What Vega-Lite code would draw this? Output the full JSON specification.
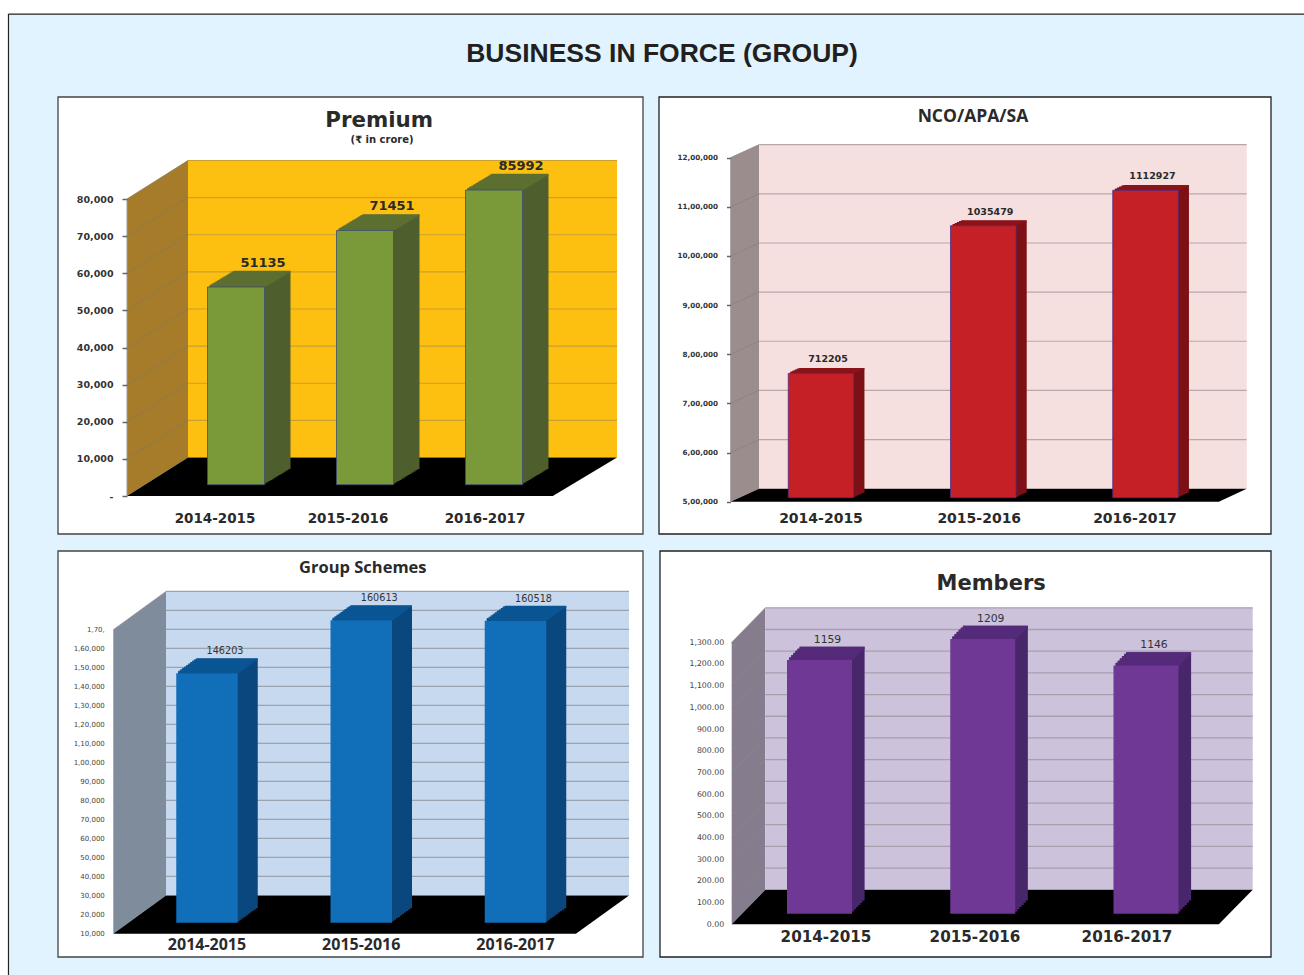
{"$schema":"https://vega.github.io/schema/vega-lite/v6.json","width":1304,"height":975,"padding":0,"autosize":{"type":"fit","contains":"padding"},"background":"white","config":{"view":{"stroke":null},"text":{"font":"DejaVu Sans","color":"#2a2a2a"}},
"datasets":{
"premium":[{"year":"2014-2015","value":51135},{"year":"2015-2016","value":71451},{"year":"2016-2017","value":85992}],
"nco":[{"year":"2014-2015","value":712205},{"year":"2015-2016","value":1035479},{"year":"2016-2017","value":1112927}],
"schemes":[{"year":"2014-2015","value":146203},{"year":"2015-2016","value":160613},{"year":"2016-2017","value":160518}],
"members":[{"year":"2014-2015","value":1159},{"year":"2015-2016","value":1209},{"year":"2016-2017","value":1146}],
"premiumRoom":[{"face":"left","depth":0,"floor":0,"ceiling":80000},{"face":"left","depth":12.45,"floor":10370,"ceiling":90370},{"face":"back","depth":12.45,"floor":10370,"ceiling":90370},{"face":"back","depth":100,"floor":10370,"ceiling":90370},{"face":"ground","depth":0,"floor":0,"ceiling":0},{"face":"ground","depth":12.45,"floor":0,"ceiling":10370},{"face":"ground","depth":86.9,"floor":0,"ceiling":10370},{"face":"ground","depth":100,"floor":10370,"ceiling":10370}],
"ncoRoom":[{"face":"left","depth":0,"floor":500000,"ceiling":1200000},{"face":"left","depth":5.52,"floor":526450,"ceiling":1226450},{"face":"back","depth":5.52,"floor":526450,"ceiling":1226450},{"face":"back","depth":100,"floor":526450,"ceiling":1226450},{"face":"ground","depth":0,"floor":500000,"ceiling":500000},{"face":"ground","depth":5.52,"floor":500000,"ceiling":526450},{"face":"ground","depth":94.6,"floor":500000,"ceiling":526450},{"face":"ground","depth":100,"floor":526450,"ceiling":526450}],
"schemesRoom":[{"face":"left","depth":0,"floor":10000,"ceiling":170000},{"face":"left","depth":10.22,"floor":30158,"ceiling":190158},{"face":"back","depth":10.22,"floor":30158,"ceiling":190158},{"face":"back","depth":100,"floor":30158,"ceiling":190158},{"face":"ground","depth":0,"floor":10000,"ceiling":10000},{"face":"ground","depth":10.22,"floor":10000,"ceiling":30158},{"face":"ground","depth":89.7,"floor":10000,"ceiling":30158},{"face":"ground","depth":100,"floor":30158,"ceiling":30158}],
"membersRoom":[{"face":"left","depth":0,"floor":0,"ceiling":1300},{"face":"left","depth":6.45,"floor":159,"ceiling":1459},{"face":"back","depth":6.45,"floor":159,"ceiling":1459},{"face":"back","depth":100,"floor":159,"ceiling":1459},{"face":"ground","depth":0,"floor":0,"ceiling":0},{"face":"ground","depth":6.45,"floor":0,"ceiling":159},{"face":"ground","depth":93.5,"floor":0,"ceiling":159},{"face":"ground","depth":100,"floor":159,"ceiling":159}],
"premiumTicks":[{"tick":10000},{"tick":20000},{"tick":30000},{"tick":40000},{"tick":50000},{"tick":60000},{"tick":70000},{"tick":80000}],
"ncoTicks":[{"tick":600000},{"tick":700000},{"tick":800000},{"tick":900000},{"tick":1000000},{"tick":1100000},{"tick":1200000}],
"schemesTicks":[{"tick":20000},{"tick":30000},{"tick":40000},{"tick":50000},{"tick":60000},{"tick":70000},{"tick":80000},{"tick":90000},{"tick":100000},{"tick":110000},{"tick":120000},{"tick":130000},{"tick":140000},{"tick":150000},{"tick":160000},{"tick":170000}],
"membersTicks":[{"tick":100},{"tick":200},{"tick":300},{"tick":400},{"tick":500},{"tick":600},{"tick":700},{"tick":800},{"tick":900},{"tick":1000},{"tick":1100},{"tick":1200},{"tick":1300}],
"one":[{"part":"frame"}]
},
"resolve":{"scale":{"x":"independent","y":"independent","color":"independent"},"axis":{"x":"independent","y":"independent"}},
"layer":[
{"data":{"name":"one"},"layer":[
{"mark":{"type":"rect","color":"#e0f3fe"},"encoding":{"x":{"datum":0.0065,"type":"quantitative","axis":null,"scale":{"domain":[0,1],"range":[0,1304]}},"x2":{"datum":1},"y":{"datum":0.0144,"type":"quantitative","axis":null,"scale":{"domain":[0,1],"range":[0,975]}},"y2":{"datum":1}}},
{"mark":{"type":"rule","color":"#222","strokeWidth":1.2},"encoding":{"x":{"datum":0.0065,"type":"quantitative","axis":null},"x2":{"datum":1},"y":{"datum":0.0144,"type":"quantitative","axis":null}}},
{"mark":{"type":"rule","color":"#222","strokeWidth":1.2},"encoding":{"x":{"datum":0.0065,"type":"quantitative","axis":null},"y":{"datum":0.0144,"type":"quantitative","axis":null},"y2":{"datum":1}}},
{"mark":{"type":"text","text":"BUSINESS IN FORCE (GROUP)","font":"Liberation Sans","fontWeight":"bold","fontSize":26.5,"align":"center","baseline":"middle","color":"#231f20"},"encoding":{"x":{"datum":0.5077,"type":"quantitative","axis":null},"y":{"datum":0.0554,"type":"quantitative","axis":null}}}
]},

{"data":{"name":"one"},"layer":[
{"mark":{"type":"rect","color":"white","stroke":"#444","strokeWidth":1.3},"encoding":{"x":{"datum":0,"type":"quantitative","axis":null,"scale":{"domain":[0,1],"range":[58,643]}},"x2":{"datum":1},"y":{"datum":0,"type":"quantitative","axis":null,"scale":{"domain":[0,1],"range":[97,534]}},"y2":{"datum":1}}},
{"mark":{"type":"text","text":"Premium","fontWeight":"bold","fontSize":21.4,"align":"center","baseline":"middle"},"encoding":{"x":{"datum":0.549,"type":"quantitative","axis":null},"y":{"datum":0.055,"type":"quantitative","axis":null}}},
{"mark":{"type":"text","text":"(₹ in crore)","fontWeight":"bold","fontSize":10,"align":"center","baseline":"middle"},"encoding":{"x":{"datum":0.554,"type":"quantitative","axis":null},"y":{"datum":0.098,"type":"quantitative","axis":null}}}
]},
{"layer":[
{"data":{"name":"premiumRoom"},"mark":{"type":"area"},"encoding":{"x":{"field":"depth","type":"quantitative","axis":null,"scale":{"domain":[0,100],"range":[127,617]}},"y":{"field":"ceiling","type":"quantitative","stack":null,"scale":{"domain":[0,80000],"range":[496,199]},"axis":{"title":null,"orient":"left","offset":-127,"zindex":2,"values":[0,10000,20000,30000,40000,50000,60000,70000,80000],"labelExpr":"datum.value==0?'-':format(datum.value,',')","domain":false,"grid":false,"tickSize":5,"tickWidth":1.5,"tickColor":"#666","labelPadding":9,"labelFont":"DejaVu Sans","labelFontSize":9.5,"labelFontWeight":"bold","labelColor":"#333"}},"y2":{"field":"floor"},"color":{"field":"face","type":"nominal","legend":null,"scale":{"domain":["left","back","ground"],"range":["#a67c2a","#fec010","#000000"]}}}},
{"data":{"name":"premiumTicks"},"mark":{"type":"rule","color":"#c9a030","strokeWidth":1.2,"yOffset":-38.5},"encoding":{"x":{"datum":12.45,"type":"quantitative","axis":null},"x2":{"datum":100},"y":{"field":"tick","type":"quantitative"}}},
{"data":{"name":"premiumTicks"},"mark":{"type":"rule","color":"#857a55","strokeWidth":0.8,"y2Offset":-38.5},"encoding":{"x":{"datum":0,"type":"quantitative","axis":null},"x2":{"datum":12.45},"y":{"field":"tick","type":"quantitative"},"y2":{"field":"tick"}}},
{"data":{"name":"one"},"mark":{"type":"rule","color":"#999","strokeWidth":1},"encoding":{"x":{"datum":0,"type":"quantitative","axis":null},"y":{"datum":0,"type":"quantitative"},"y2":{"datum":80000}}}
]},
{"data":{"name":"premium"},"encoding":{"x":{"field":"year","type":"nominal","axis":null,"scale":{"type":"point","padding":0,"domain":["2014-2015","2015-2016","2016-2017"],"range":[236,494]}},"y":{"field":"value","type":"quantitative","stack":null,"axis":null,"scale":{"domain":[-19900,85992],"range":[484.7,190],"nice":false,"zero":false}}},"layer":[
{"encoding":{"y2":{"datum":-19900}},"layer":[
{"mark":{"type":"bar","size":57,"color":"#4e5e2d","xOffset":2,"yOffset":-1.2,"y2Offset":-1.2}},
{"mark":{"type":"bar","size":57,"color":"#4e5e2d","xOffset":4,"yOffset":-2.4,"y2Offset":-2.4}},
{"mark":{"type":"bar","size":57,"color":"#4e5e2d","xOffset":6,"yOffset":-3.6,"y2Offset":-3.6}},
{"mark":{"type":"bar","size":57,"color":"#4e5e2d","xOffset":8,"yOffset":-4.8,"y2Offset":-4.8}},
{"mark":{"type":"bar","size":57,"color":"#4e5e2d","xOffset":10,"yOffset":-6,"y2Offset":-6}},
{"mark":{"type":"bar","size":57,"color":"#4e5e2d","xOffset":12,"yOffset":-7.2,"y2Offset":-7.2}},
{"mark":{"type":"bar","size":57,"color":"#4e5e2d","xOffset":14,"yOffset":-8.4,"y2Offset":-8.4}},
{"mark":{"type":"bar","size":57,"color":"#4e5e2d","xOffset":16,"yOffset":-9.6,"y2Offset":-9.6}},
{"mark":{"type":"bar","size":57,"color":"#4e5e2d","xOffset":18,"yOffset":-10.8,"y2Offset":-10.8}},
{"mark":{"type":"bar","size":57,"color":"#4e5e2d","xOffset":20,"yOffset":-12,"y2Offset":-12}},
{"mark":{"type":"bar","size":57,"color":"#4e5e2d","xOffset":22,"yOffset":-13.2,"y2Offset":-13.2}},
{"mark":{"type":"bar","size":57,"color":"#4e5e2d","xOffset":24,"yOffset":-14.4,"y2Offset":-14.4}},
{"mark":{"type":"bar","size":57,"color":"#4e5e2d","xOffset":26,"yOffset":-15.6,"y2Offset":-15.6}}
]},
{"mark":{"type":"tick","size":57,"thickness":2,"opacity":1,"color":"#5c6f31","xOffset":2,"yOffset":-1.2}},
{"mark":{"type":"tick","size":57,"thickness":2,"opacity":1,"color":"#5c6f31","xOffset":4,"yOffset":-2.4}},
{"mark":{"type":"tick","size":57,"thickness":2,"opacity":1,"color":"#5c6f31","xOffset":6,"yOffset":-3.6}},
{"mark":{"type":"tick","size":57,"thickness":2,"opacity":1,"color":"#5c6f31","xOffset":8,"yOffset":-4.8}},
{"mark":{"type":"tick","size":57,"thickness":2,"opacity":1,"color":"#5c6f31","xOffset":10,"yOffset":-6}},
{"mark":{"type":"tick","size":57,"thickness":2,"opacity":1,"color":"#5c6f31","xOffset":12,"yOffset":-7.2}},
{"mark":{"type":"tick","size":57,"thickness":2,"opacity":1,"color":"#5c6f31","xOffset":14,"yOffset":-8.4}},
{"mark":{"type":"tick","size":57,"thickness":2,"opacity":1,"color":"#5c6f31","xOffset":16,"yOffset":-9.6}},
{"mark":{"type":"tick","size":57,"thickness":2,"opacity":1,"color":"#5c6f31","xOffset":18,"yOffset":-10.8}},
{"mark":{"type":"tick","size":57,"thickness":2,"opacity":1,"color":"#5c6f31","xOffset":20,"yOffset":-12}},
{"mark":{"type":"tick","size":57,"thickness":2,"opacity":1,"color":"#5c6f31","xOffset":22,"yOffset":-13.2}},
{"mark":{"type":"tick","size":57,"thickness":2,"opacity":1,"color":"#5c6f31","xOffset":24,"yOffset":-14.4}},
{"mark":{"type":"tick","size":57,"thickness":2,"opacity":1,"color":"#5c6f31","xOffset":26,"yOffset":-15.2}},
{"encoding":{"y2":{"datum":-19900}},"mark":{"type":"bar","size":57,"color":"#7a9a3a","stroke":"#3f4c78","strokeWidth":0.8}},
{"mark":{"type":"text","fontWeight":"bold","fontSize":13,"xOffset":27,"yOffset":-24,"align":"center","baseline":"middle"},"encoding":{"text":{"field":"value","type":"quantitative","format":"d"}}},
{"transform":[{"filter":"datum.year=='2014-2015'"}],"mark":{"type":"text","fontWeight":"bold","fontSize":13.5,"xOffset":-21,"yOffset":34,"align":"center","baseline":"middle"},"encoding":{"y":{"datum":-19900,"type":"quantitative","axis":null},"text":{"field":"year"}}},
{"transform":[{"filter":"datum.year=='2015-2016'"}],"mark":{"type":"text","fontWeight":"bold","fontSize":13.5,"xOffset":-17,"yOffset":34,"align":"center","baseline":"middle"},"encoding":{"y":{"datum":-19900,"type":"quantitative","axis":null},"text":{"field":"year"}}},
{"transform":[{"filter":"datum.year=='2016-2017'"}],"mark":{"type":"text","fontWeight":"bold","fontSize":13.5,"xOffset":-9,"yOffset":34,"align":"center","baseline":"middle"},"encoding":{"y":{"datum":-19900,"type":"quantitative","axis":null},"text":{"field":"year"}}}
]},

{"data":{"name":"one"},"layer":[
{"mark":{"type":"rect","color":"white","stroke":"#222","strokeWidth":1.3},"encoding":{"x":{"datum":0,"type":"quantitative","axis":null,"scale":{"domain":[0,1],"range":[659,1271]}},"x2":{"datum":1},"y":{"datum":0,"type":"quantitative","axis":null,"scale":{"domain":[0,1],"range":[97,534]}},"y2":{"datum":1}}},
{"mark":{"type":"text","text":"NCO/APA/SA","font":"Open Sans","fontWeight":"bold","fontSize":17.5,"align":"center","baseline":"middle"},"encoding":{"x":{"datum":0.513,"type":"quantitative","axis":null},"y":{"datum":0.046,"type":"quantitative","axis":null}}}
]},
{"layer":[
{"data":{"name":"ncoRoom"},"mark":{"type":"area"},"encoding":{"x":{"field":"depth","type":"quantitative","axis":null,"scale":{"domain":[0,100],"range":[730.5,1246.7]}},"y":{"field":"ceiling","type":"quantitative","stack":null,"scale":{"domain":[500000,1200000],"range":[501.7,157.7],"zero":false,"nice":false},"axis":{"title":null,"orient":"left","offset":-730.5,"zindex":2,"values":[500000,600000,700000,800000,900000,1000000,1100000,1200000],"labelExpr":"floor(datum.value/100000)+',00,000'","domain":false,"grid":false,"tickSize":4,"tickWidth":1.5,"tickColor":"#666","labelPadding":9,"labelFont":"DejaVu Sans","labelFontSize":7.2,"labelFontWeight":"bold","labelColor":"#333"}},"y2":{"field":"floor"},"color":{"field":"face","type":"nominal","legend":null,"scale":{"domain":["left","back","ground"],"range":["#9b8d8d","#f6dfdf","#000000"]}}}},
{"data":{"name":"ncoTicks"},"mark":{"type":"rule","color":"#b8a8a8","strokeWidth":1.2,"yOffset":-13},"encoding":{"x":{"datum":5.52,"type":"quantitative","axis":null},"x2":{"datum":100},"y":{"field":"tick","type":"quantitative"}}},
{"data":{"name":"ncoTicks"},"mark":{"type":"rule","color":"#8a8080","strokeWidth":0.8,"y2Offset":-13},"encoding":{"x":{"datum":0,"type":"quantitative","axis":null},"x2":{"datum":5.52},"y":{"field":"tick","type":"quantitative"},"y2":{"field":"tick"}}},
{"data":{"name":"one"},"mark":{"type":"rule","color":"#aaa","strokeWidth":1},"encoding":{"x":{"datum":0,"type":"quantitative","axis":null},"y":{"datum":500000,"type":"quantitative"},"y2":{"datum":1200000}}}
]},
{"data":{"name":"nco"},"encoding":{"x":{"field":"year","type":"nominal","axis":null,"scale":{"type":"point","padding":0,"domain":["2014-2015","2015-2016","2016-2017"],"range":[821,1145.5]}},"y":{"field":"value","type":"quantitative","stack":null,"axis":null,"scale":{"domain":[440000,1112927],"range":[497.7,190.3],"nice":false,"zero":false}}},"layer":[
{"encoding":{"y2":{"datum":440000}},"layer":[
{"mark":{"type":"bar","size":65.5,"color":"#7d1015","xOffset":2.14,"yOffset":-1,"y2Offset":-1}},
{"mark":{"type":"bar","size":65.5,"color":"#7d1015","xOffset":4.28,"yOffset":-2,"y2Offset":-2}},
{"mark":{"type":"bar","size":65.5,"color":"#7d1015","xOffset":6.42,"yOffset":-3,"y2Offset":-3}},
{"mark":{"type":"bar","size":65.5,"color":"#7d1015","xOffset":8.56,"yOffset":-4,"y2Offset":-4}},
{"mark":{"type":"bar","size":65.5,"color":"#7d1015","xOffset":10.7,"yOffset":-5,"y2Offset":-5}}
]},
{"mark":{"type":"tick","size":65.5,"thickness":1.6,"opacity":1,"color":"#8a1318","xOffset":2.14,"yOffset":-1}},
{"mark":{"type":"tick","size":65.5,"thickness":1.6,"opacity":1,"color":"#8a1318","xOffset":4.28,"yOffset":-2}},
{"mark":{"type":"tick","size":65.5,"thickness":1.6,"opacity":1,"color":"#8a1318","xOffset":6.42,"yOffset":-3}},
{"mark":{"type":"tick","size":65.5,"thickness":1.6,"opacity":1,"color":"#8a1318","xOffset":8.56,"yOffset":-4}},
{"mark":{"type":"tick","size":65.5,"thickness":1.6,"opacity":1,"color":"#8a1318","xOffset":10.7,"yOffset":-4.6}},
{"encoding":{"y2":{"datum":440000}},"mark":{"type":"bar","size":65.5,"color":"#c42026","stroke":"#4a2f8a","strokeWidth":0.8}},
{"mark":{"type":"text","fontWeight":"bold","fontSize":9.5,"xOffset":7,"yOffset":-14,"align":"center","baseline":"middle"},"encoding":{"text":{"field":"value","type":"quantitative","format":"d"}}},
{"transform":[{"filter":"datum.year=='2014-2015'"}],"mark":{"type":"text","fontWeight":"bold","fontSize":14,"xOffset":0,"yOffset":21,"align":"center","baseline":"middle"},"encoding":{"y":{"datum":440000,"type":"quantitative","axis":null},"text":{"field":"year"}}},
{"transform":[{"filter":"datum.year=='2015-2016'"}],"mark":{"type":"text","fontWeight":"bold","fontSize":14,"xOffset":-4,"yOffset":21,"align":"center","baseline":"middle"},"encoding":{"y":{"datum":440000,"type":"quantitative","axis":null},"text":{"field":"year"}}},
{"transform":[{"filter":"datum.year=='2016-2017'"}],"mark":{"type":"text","fontWeight":"bold","fontSize":14,"xOffset":-10.5,"yOffset":21,"align":"center","baseline":"middle"},"encoding":{"y":{"datum":440000,"type":"quantitative","axis":null},"text":{"field":"year"}}}
]},

{"data":{"name":"one"},"layer":[
{"mark":{"type":"rect","color":"white","stroke":"#444","strokeWidth":1.3},"encoding":{"x":{"datum":0,"type":"quantitative","axis":null,"scale":{"domain":[0,1],"range":[58,643]}},"x2":{"datum":1},"y":{"datum":0,"type":"quantitative","axis":null,"scale":{"domain":[0,1],"range":[551,957]}},"y2":{"datum":1}}},
{"mark":{"type":"text","text":"Group Schemes","font":"Open Sans","fontWeight":"bold","fontSize":16.5,"align":"center","baseline":"middle"},"encoding":{"x":{"datum":0.521,"type":"quantitative","axis":null},"y":{"datum":0.042,"type":"quantitative","axis":null}}}
]},
{"layer":[
{"data":{"name":"schemesRoom"},"mark":{"type":"area"},"encoding":{"x":{"field":"depth","type":"quantitative","axis":null,"scale":{"domain":[0,100],"range":[113.3,629]}},"y":{"field":"ceiling","type":"quantitative","stack":null,"scale":{"domain":[10000,170000],"range":[933.7,629.7],"zero":false,"nice":false},"axis":{"title":null,"orient":"left","offset":-113.3,"zindex":2,"values":[10000,20000,30000,40000,50000,60000,70000,80000,90000,100000,110000,120000,130000,140000,150000,160000,170000],"labelExpr":"datum.value==170000?'1,70,':(datum.value>=100000?'1,'+format((datum.value-100000)/1000,'02d')+',000':format(datum.value,','))","domain":false,"grid":false,"ticks":false,"tickSize":0,"labelPadding":9,"labelFont":"DejaVu Sans","labelFontSize":7,"labelColor":"#444"}},"y2":{"field":"floor"},"color":{"field":"face","type":"nominal","legend":null,"scale":{"domain":["left","back","ground"],"range":["#7f8c9c","#c7d9ef","#000000"]}}}},
{"data":{"name":"schemesTicks"},"mark":{"type":"rule","color":"#99a4b0","strokeWidth":1.3,"yOffset":-38.3},"encoding":{"x":{"datum":10.22,"type":"quantitative","axis":null},"x2":{"datum":100},"y":{"field":"tick","type":"quantitative"}}},
{"data":{"name":"schemesTicks"},"mark":{"type":"rule","color":"#8c8f92","strokeWidth":0.7,"y2Offset":-38.3},"encoding":{"x":{"datum":0,"type":"quantitative","axis":null},"x2":{"datum":10.22},"y":{"field":"tick","type":"quantitative"},"y2":{"field":"tick"}}}
]},
{"data":{"name":"schemes"},"encoding":{"x":{"field":"year","type":"nominal","axis":null,"scale":{"type":"point","padding":0,"domain":["2014-2015","2015-2016","2016-2017"],"range":[207,515.5]}},"y":{"field":"value","type":"quantitative","stack":null,"axis":null,"scale":{"domain":[78400,160613],"range":[922.7,620.3],"nice":false,"zero":false}}},"layer":[
{"encoding":{"y2":{"datum":78400}},"layer":[
{"mark":{"type":"bar","size":61.5,"color":"#0a477e","xOffset":2,"yOffset":-1.45,"y2Offset":-1.45}},
{"mark":{"type":"bar","size":61.5,"color":"#0a477e","xOffset":4,"yOffset":-2.9,"y2Offset":-2.9}},
{"mark":{"type":"bar","size":61.5,"color":"#0a477e","xOffset":6,"yOffset":-4.35,"y2Offset":-4.35}},
{"mark":{"type":"bar","size":61.5,"color":"#0a477e","xOffset":8,"yOffset":-5.8,"y2Offset":-5.8}},
{"mark":{"type":"bar","size":61.5,"color":"#0a477e","xOffset":10,"yOffset":-7.25,"y2Offset":-7.25}},
{"mark":{"type":"bar","size":61.5,"color":"#0a477e","xOffset":12,"yOffset":-8.7,"y2Offset":-8.7}},
{"mark":{"type":"bar","size":61.5,"color":"#0a477e","xOffset":14,"yOffset":-10.15,"y2Offset":-10.15}},
{"mark":{"type":"bar","size":61.5,"color":"#0a477e","xOffset":16,"yOffset":-11.6,"y2Offset":-11.6}},
{"mark":{"type":"bar","size":61.5,"color":"#0a477e","xOffset":18,"yOffset":-13.05,"y2Offset":-13.05}},
{"mark":{"type":"bar","size":61.5,"color":"#0a477e","xOffset":20,"yOffset":-14.5,"y2Offset":-14.5}}
]},
{"mark":{"type":"tick","size":61.5,"thickness":2.2,"opacity":1,"color":"#0a5594","xOffset":2,"yOffset":-1.45}},
{"mark":{"type":"tick","size":61.5,"thickness":2.2,"opacity":1,"color":"#0a5594","xOffset":4,"yOffset":-2.9}},
{"mark":{"type":"tick","size":61.5,"thickness":2.2,"opacity":1,"color":"#0a5594","xOffset":6,"yOffset":-4.35}},
{"mark":{"type":"tick","size":61.5,"thickness":2.2,"opacity":1,"color":"#0a5594","xOffset":8,"yOffset":-5.8}},
{"mark":{"type":"tick","size":61.5,"thickness":2.2,"opacity":1,"color":"#0a5594","xOffset":10,"yOffset":-7.25}},
{"mark":{"type":"tick","size":61.5,"thickness":2.2,"opacity":1,"color":"#0a5594","xOffset":12,"yOffset":-8.7}},
{"mark":{"type":"tick","size":61.5,"thickness":2.2,"opacity":1,"color":"#0a5594","xOffset":14,"yOffset":-10.15}},
{"mark":{"type":"tick","size":61.5,"thickness":2.2,"opacity":1,"color":"#0a5594","xOffset":16,"yOffset":-11.6}},
{"mark":{"type":"tick","size":61.5,"thickness":2.2,"opacity":1,"color":"#0a5594","xOffset":18,"yOffset":-13.05}},
{"mark":{"type":"tick","size":61.5,"thickness":2.2,"opacity":1,"color":"#0a5594","xOffset":20,"yOffset":-13.9}},
{"encoding":{"y2":{"datum":78400}},"mark":{"type":"bar","size":61.5,"color":"#116eb8"}},
{"mark":{"type":"text","fontSize":9.7,"color":"#333","xOffset":18,"yOffset":-22,"align":"center","baseline":"middle"},"encoding":{"text":{"field":"value","type":"quantitative","format":"d"}}},
{"mark":{"type":"text","font":"Open Sans","fontWeight":"bold","fontSize":16,"yOffset":22.5,"align":"center","baseline":"middle"},"encoding":{"y":{"datum":78400,"type":"quantitative","axis":null},"text":{"field":"year"}}}
]},

{"data":{"name":"one"},"layer":[
{"mark":{"type":"rect","color":"white","stroke":"#222","strokeWidth":1.3},"encoding":{"x":{"datum":0,"type":"quantitative","axis":null,"scale":{"domain":[0,1],"range":[660,1271]}},"x2":{"datum":1},"y":{"datum":0,"type":"quantitative","axis":null,"scale":{"domain":[0,1],"range":[551,957]}},"y2":{"datum":1}}},
{"mark":{"type":"text","text":"Members","fontWeight":"bold","fontSize":21,"align":"center","baseline":"middle"},"encoding":{"x":{"datum":0.542,"type":"quantitative","axis":null},"y":{"datum":0.081,"type":"quantitative","axis":null}}}
]},
{"layer":[
{"data":{"name":"membersRoom"},"mark":{"type":"area"},"encoding":{"x":{"field":"depth","type":"quantitative","axis":null,"scale":{"domain":[0,100],"range":[731.7,1252.7]}},"y":{"field":"ceiling","type":"quantitative","stack":null,"scale":{"domain":[0,1300],"range":[924.3,642.3],"nice":false},"axis":{"title":null,"orient":"left","offset":-731.7,"zindex":2,"values":[0,100,200,300,400,500,600,700,800,900,1000,1100,1200,1300],"labelExpr":"format(datum.value,',.2f')","domain":false,"grid":false,"ticks":false,"tickSize":0,"labelPadding":8,"labelFont":"DejaVu Sans","labelFontSize":7.8,"labelColor":"#444"}},"y2":{"field":"floor"},"color":{"field":"face","type":"nominal","legend":null,"scale":{"domain":["left","back","ground"],"range":["#857d8e","#ccc2dc","#000000"]}}}},
{"data":{"name":"membersTicks"},"mark":{"type":"rule","color":"#a79fae","strokeWidth":1.3,"yOffset":-34.5},"encoding":{"x":{"datum":6.45,"type":"quantitative","axis":null},"x2":{"datum":100},"y":{"field":"tick","type":"quantitative"}}},
{"data":{"name":"membersTicks"},"mark":{"type":"rule","color":"#8e8a88","strokeWidth":0.6,"y2Offset":-34.5},"encoding":{"x":{"datum":0,"type":"quantitative","axis":null},"x2":{"datum":6.45},"y":{"field":"tick","type":"quantitative"},"y2":{"field":"tick"}}}
]},
{"data":{"name":"members"},"encoding":{"x":{"field":"year","type":"nominal","axis":null,"scale":{"type":"point","padding":0,"domain":["2014-2015","2015-2016","2016-2017"],"range":[819.5,1146]}},"y":{"field":"value","type":"quantitative","stack":null,"axis":null,"scale":{"domain":[555,1209],"range":[913.7,639],"nice":false,"zero":false}}},"layer":[
{"encoding":{"y2":{"datum":555}},"layer":[
{"mark":{"type":"bar","size":65,"color":"#47266a","xOffset":2.1,"yOffset":-2.2,"y2Offset":-2.2}},
{"mark":{"type":"bar","size":65,"color":"#47266a","xOffset":4.2,"yOffset":-4.4,"y2Offset":-4.4}},
{"mark":{"type":"bar","size":65,"color":"#47266a","xOffset":6.3,"yOffset":-6.6,"y2Offset":-6.6}},
{"mark":{"type":"bar","size":65,"color":"#47266a","xOffset":8.4,"yOffset":-8.8,"y2Offset":-8.8}},
{"mark":{"type":"bar","size":65,"color":"#47266a","xOffset":10.5,"yOffset":-11,"y2Offset":-11}},
{"mark":{"type":"bar","size":65,"color":"#47266a","xOffset":12.6,"yOffset":-13.2,"y2Offset":-13.2}}
]},
{"mark":{"type":"tick","size":65,"thickness":2.8,"opacity":1,"color":"#552a7a","xOffset":2.1,"yOffset":-1.4}},
{"mark":{"type":"tick","size":65,"thickness":2.8,"opacity":1,"color":"#552a7a","xOffset":4.2,"yOffset":-3.6}},
{"mark":{"type":"tick","size":65,"thickness":2.8,"opacity":1,"color":"#552a7a","xOffset":6.3,"yOffset":-5.8}},
{"mark":{"type":"tick","size":65,"thickness":2.8,"opacity":1,"color":"#552a7a","xOffset":8.4,"yOffset":-8}},
{"mark":{"type":"tick","size":65,"thickness":2.8,"opacity":1,"color":"#552a7a","xOffset":10.5,"yOffset":-10.2}},
{"mark":{"type":"tick","size":65,"thickness":2.8,"opacity":1,"color":"#552a7a","xOffset":12.6,"yOffset":-11.8}},
{"encoding":{"y2":{"datum":555}},"mark":{"type":"bar","size":65,"color":"#6f3895"}},
{"mark":{"type":"text","fontSize":10.8,"color":"#333","xOffset":8,"yOffset":-20,"align":"center","baseline":"middle"},"encoding":{"text":{"field":"value","type":"quantitative","format":"d"}}},
{"transform":[{"filter":"datum.year=='2014-2015'"}],"mark":{"type":"text","fontWeight":"bold","fontSize":15.2,"xOffset":6.5,"yOffset":23,"align":"center","baseline":"middle"},"encoding":{"y":{"datum":555,"type":"quantitative","axis":null},"text":{"field":"year"}}},
{"transform":[{"filter":"datum.year=='2015-2016'"}],"mark":{"type":"text","fontWeight":"bold","fontSize":15.2,"xOffset":-7.75,"yOffset":23,"align":"center","baseline":"middle"},"encoding":{"y":{"datum":555,"type":"quantitative","axis":null},"text":{"field":"year"}}},
{"transform":[{"filter":"datum.year=='2016-2017'"}],"mark":{"type":"text","fontWeight":"bold","fontSize":15.2,"xOffset":-19,"yOffset":23,"align":"center","baseline":"middle"},"encoding":{"y":{"datum":555,"type":"quantitative","axis":null},"text":{"field":"year"}}}
]}
]}
